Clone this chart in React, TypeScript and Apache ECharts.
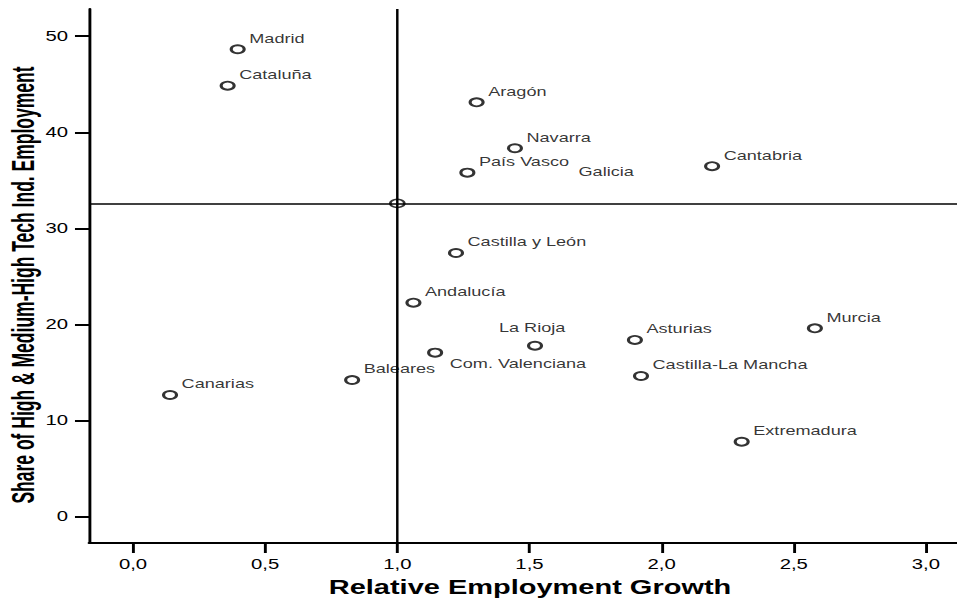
import React, { useEffect, useRef } from 'react';
import * as echarts from 'echarts';

// ---- data ----
const regions = [
  'Madrid', 'Cataluña', 'Aragón', 'Navarra', 'País Vasco', 'Galicia', 'Cantabria',
  'Castilla y León', 'Andalucía', 'La Rioja', 'Com. Valenciana', 'Baleares',
  'Asturias', 'Castilla-La Mancha', 'Murcia', 'Extremadura', 'Canarias',
];
const growth = [0.396, 0.358, 1.300, 1.445, 1.265, 1.642, 2.191, 1.222, 1.061, 1.521, 1.143, 0.829, 1.899, 1.922, 2.580, 2.303, 0.140];
const share = [48.64, 44.85, 43.12, 38.34, 35.80, 34.76, 36.47, 27.44, 22.27, 17.79, 17.07, 14.22, 18.39, 14.64, 19.60, 7.80, 12.66];
const meanPoint = [1.0, 32.6];
const xTicks = [0, 0.5, 1, 1.5, 2, 2.5, 3];
const yTicks = [0, 10, 20, 30, 40, 50];
const xTitle = 'Relative Employment Growth';
const yTitle = 'Share of High & Medium-High Tech Ind. Employment';

// ---- layout (drawn narrow, then stretched horizontally like the reference) ----
const STRETCH = 1.45;
const W = 660;
const H = 598;
const FONT = '"Liberation Sans", Arial, Helvetica, sans-serif';

const hiddenMarker = ['Galicia'];
const labelOverrides: Record<string, any> = {
  'La Rioja': { position: 'top', distance: 5, offset: [-2, -2] },
  'Com. Valenciana': { position: 'right', distance: 4.5, offset: [0, 10.6] },
};

export default function App() {
  const ref = useRef<HTMLDivElement>(null);

  useEffect(() => {
    if (!ref.current) return;
    const chart = echarts.init(ref.current, undefined, { renderer: 'svg' });

    const pointData = regions.map((name, i) => {
      const item: any = { name, value: [growth[i], share[i]] };
      if (labelOverrides[name]) item.label = labelOverrides[name];
      if (hiddenMarker.includes(name)) {
        item.itemStyle = { borderColor: 'rgba(0,0,0,0)', color: 'rgba(0,0,0,0)' };
      }
      return item;
    });

    chart.setOption({
      animation: false,
      backgroundColor: '#fff',
      grid: { left: 61.4, right: 0, top: 9, bottom: 55, containLabel: false },
      xAxis: {
        type: 'value',
        min: -0.1665,
        max: 3.1177,
        splitLine: { show: false },
        axisLine: { show: true, onZero: false, lineStyle: { color: '#000', width: 2 } },
        axisTick: { show: true, length: 10, lineStyle: { color: '#000', width: 2 }, customValues: xTicks },
        axisLabel: {
          customValues: xTicks,
          margin: 14,
          color: '#000',
          fontFamily: FONT,
          fontSize: 14,
          formatter: (v: number) => v.toFixed(1).replace('.', ','),
        },
      },
      yAxis: {
        type: 'value',
        min: -2.74,
        max: 52.83,
        splitLine: { show: false },
        axisLine: { show: true, onZero: false, lineStyle: { color: '#000', width: 2 } },
        axisTick: { show: true, length: 9.7, lineStyle: { color: '#000', width: 2 }, customValues: yTicks },
        axisLabel: {
          customValues: yTicks,
          margin: 14.5,
          color: '#000',
          fontFamily: FONT,
          fontSize: 14,
          formatter: (v: number) => String(v),
        },
      },
      graphic: [
        {
          type: 'text',
          x: 530 / STRETCH,
          y: 587,
          style: {
            text: xTitle,
            font: `bold 20px ${FONT}`,
            fill: '#000',
            textAlign: 'center',
            textVerticalAlign: 'middle',
          },
        },
        {
          type: 'text',
          x: 16.3,
          y: 285,
          rotation: Math.PI / 2,
          scaleY: 1.2,
          style: {
            text: yTitle,
            font: `bold 17.5px ${FONT}`,
            fill: '#000',
            textAlign: 'center',
            textVerticalAlign: 'middle',
          },
        },
      ],
      series: [
        {
          type: 'scatter',
          name: 'mean',
          data: [meanPoint],
          symbol: 'circle',
          symbolSize: [9.7, 8],
          itemStyle: { color: 'rgba(0,0,0,0)', borderColor: '#000', borderWidth: 1.6 },
          silent: true,
          z: 3,
          markLine: {
            silent: true,
            symbol: ['none', 'none'],
            label: { show: false },
            animation: false,
            data: [
              { xAxis: meanPoint[0], lineStyle: { color: '#000', width: 1.7, type: 'solid' } },
              { yAxis: meanPoint[1], lineStyle: { color: '#000', width: 1.5, type: 'solid' } },
            ],
          },
        },
        {
          type: 'scatter',
          name: 'regions',
          data: pointData,
          symbol: 'circle',
          symbolSize: [9, 8],
          itemStyle: { color: 'rgba(0,0,0,0)', borderColor: '#000', borderWidth: 2 },
          z: 4,
          label: {
            show: true,
            formatter: '{b}',
            position: 'right',
            distance: 2.4,
            offset: [0, -11],
            color: '#000',
            fontFamily: FONT,
            fontSize: 12.5,
          },
        },
      ],
    });

    return () => chart.dispose();
  }, []);

  return (
    <div
      ref={ref}
      style={{
        position: 'absolute',
        left: 0,
        top: 0,
        width: W,
        height: H,
        transform: `scaleX(${STRETCH})`,
        transformOrigin: '0 0',
        background: '#fff',
      }}
    />
  );
}
